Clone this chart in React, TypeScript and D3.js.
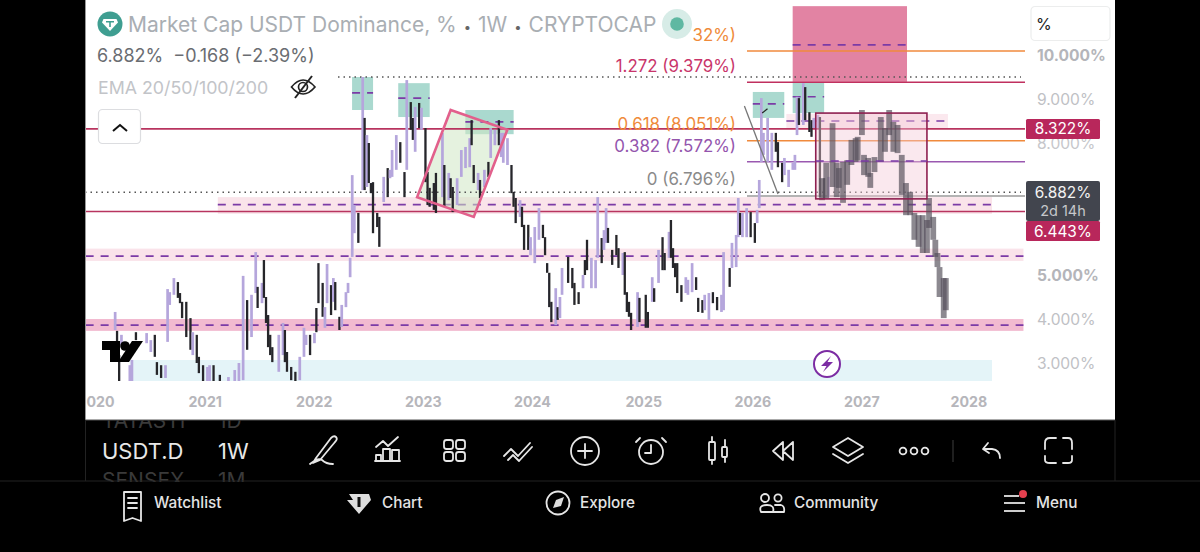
import React from "react";
import * as d3 from "d3";

const weeks = [
0,1,2,3,7,8,10,15,17,19,
20,22,24,25,26,28,30,31,32,34,
36,37,39,40,42,44,45,47,50,54,
57,59,61,63,65,67,68,70,71,72,
73,74,75,78,80,81,82,84,86,88,
90,91,93,95,96,97,99,100,101,103,
104,105,107,108,110,111,112,113,114,116,
118,119,120,121,122,123,125,126,128,130,
131,132,134,136,138,139,141,142,143,145,
146,148,149,150,152,153,156,157,159,160,
161,163,165,167,169,170,171,173,174,176,
178,179,181,183,184,185,187,189,190,191,
193,194,195,197,198,200,202,204,205,206,
207,208,210,211,212,213,216,218,219,221,
223,224,225,227,229,230,232,233,234,235,
237,239,240,242,243,244,245,246,249,250,
253,254,256,257,259,261,262,264,265,266,
267,268,270,272,273,275,277,278,280,281,
283,285,287,289,290,293,294,296,297,298,
299,301,303,305,306,307,308,309,311,313,
315,316,318,319,321,323,324,325,326,328,
329,331,332,333,335,336,338,340];
const highs = [
4.16,3.73,3.18,3.64,2.95,3.07,3.70,3.68,3.52,3.64,
3.02,2.95,2.95,4.68,4.61,4.93,4.84,4.59,4.39,4.39,
4.02,3.70,3.64,3.14,2.95,2.91,2.95,2.95,2.73,2.68,
2.84,3.0,4.98,4.43,4.55,5.52,4.73,4.82,5.34,4.50,
4.09,3.64,3.36,3.64,3.91,3.75,3.25,2.91,2.80,3.14,
3.80,3.64,3.64,3.68,4.25,5.27,4.82,4.27,5.25,4.77,
4.93,4.84,4.05,4.32,4.61,4.82,5.39,7.27,6.59,6.41,
9.5,8.57,8.18,8.0,7.09,7.11,6.41,6.32,7.23,7.43,
7.39,7.84,8.18,8.02,7.34,9.43,8.93,8.57,8.82,8.91,
8.80,8.34,7.34,6.98,7.09,7.32,8.23,7.5,7.32,7.2,
7.0,7.2,7.84,7.91,8.11,8.52,7.5,7.32,7.16,7.39,
7.57,8.34,8.3,8.52,8.23,8.23,8.11,7.5,6.89,6.75,
6.7,6.55,6.14,6.14,5.86,6.09,6.52,6.14,5.86,5.27,
5.05,4.39,4.7,4.27,4.5,5.16,5.41,5.16,4.82,4.61,
5.0,5.34,5.8,5.39,5.34,6.77,5.84,6.02,6.52,6.07,
5.57,5.91,5.61,5.5,5.52,4.61,4.39,4.14,4.61,4.48,
4.55,4.16,4.95,4.7,5.57,5.86,5.5,5.98,6.25,5.61,
5.27,5.27,4.77,4.95,4.89,5.27,4.95,4.48,4.43,4.55,
4.59,4.61,4.5,4.55,5.52,5.16,5.73,5.91,6.75,6.41,
6.41,6.52,6.43,6.18,6.48,7.16,9.02,8.23,8.57,8.23,
8.23,8.02,7.55,7.66,7.39,7.55,7.73,9.05,9.02,9.36,
9.27,8.7,8.52,8.57,8.64,8.59,7.2,7.23];
const lows = [
3.75,3.4,2.59,3.41,2.59,2.59,3.52,3.45,3.25,3.14,
2.73,2.66,2.66,3.48,4.32,4.55,4.48,4.36,4.02,3.59,
3.30,3.18,3.0,2.77,2.59,2.59,2.59,2.59,2.59,2.59,
2.59,2.59,2.61,3.30,3.59,4.59,4.25,4.36,4.48,3.91,
3.36,3.18,3.02,2.80,3.18,3.02,2.80,2.61,2.59,2.61,
3.14,3.41,3.18,3.45,3.70,4.36,4.05,3.80,4.36,4.09,
4.39,4.20,3.75,3.82,4.27,4.59,4.95,5.41,5.95,5.73,
6.93,6.93,7.0,7.09,6.86,5.95,6.09,5.64,6.66,6.77,
7.2,7.23,7.39,7.55,6.77,7.39,8.30,8.07,7.80,8.34,
8.30,7.11,6.59,6.55,6.48,6.41,6.77,6.55,6.70,6.75,
6.43,6.59,7.23,7.43,7.45,7.95,7.09,6.93,6.75,7.0,
7.23,7.66,7.95,7.95,7.68,7.55,7.5,6.86,6.55,6.18,
6.32,6.09,5.57,5.57,5.45,5.27,5.8,5.84,5.45,5.05,
4.27,3.93,3.86,3.98,4.02,4.55,4.82,4.7,4.32,4.34,
4.7,5.0,5.11,4.7,4.7,5.39,5.27,5.57,5.73,5.73,
5.23,5.45,5.16,5.0,4.55,4.16,4.05,3.75,3.82,3.93,
3.8,3.8,4.39,4.39,4.82,5.11,5.11,5.39,5.39,5.16,
4.95,4.59,4.39,4.59,4.55,4.61,4.66,4.16,4.14,4.2,
3.98,4.36,4.2,4.16,4.2,4.73,5.16,5.18,5.86,5.91,
5.86,5.86,5.86,5.73,6.18,6.52,7.57,7.73,7.57,7.39,
7.8,7.45,7.11,7.27,7.0,7.39,7.39,8.18,8.41,8.41,
8.52,8.25,8.14,8.34,8.34,6.77,6.75,6.77];
const ups = [
1,0,0,1,1,1,0,1,1,0,
0,0,1,1,1,1,0,0,0,0,
0,1,0,0,0,1,1,0,0,1,
1,1,1,0,1,1,0,1,0,0,
0,0,0,1,1,0,0,0,0,1,
1,1,0,1,0,0,0,1,1,0,
1,0,0,1,1,1,1,1,1,0,
1,0,1,0,0,0,0,0,1,0,
1,1,1,0,0,1,0,0,1,0,
1,0,0,0,0,0,1,0,1,0,
0,1,1,1,1,0,0,1,0,1,
0,1,1,0,1,1,1,0,0,0,
1,0,0,0,1,1,1,0,0,0,
0,0,1,0,1,1,0,0,0,0,
1,0,0,1,1,1,0,1,1,0,
0,0,0,1,0,0,0,0,1,0,
0,0,1,0,1,0,0,1,0,0,
0,0,0,1,1,1,0,0,0,1,
1,0,0,1,1,0,1,1,1,0,
1,1,0,0,1,1,1,1,1,1,
0,0,0,1,1,1,1,1,0,1,
0,0,0,1,1,0,0,1];

const ghostWeeks = [337,339,342,344,345,347,349,351,353,354,356,357,359,360,362,365,367,369,371,373,375,377,379,381,383,385,387,388,390,391,392,393,395,396];
const ghostHighs = [7.2,7.55,8.45,7.55,7.43,7.57,7.61,8.07,8.11,8.14,8.75,7.73,7.66,7.32,7.68,8.59,8.34,8.75,8.48,8.41,7.73,7.09,6.89,6.41,6.36,6.36,6.25,6.75,6.32,5.8,5.5,5.18,4.93,4.93];
const ghostLows = [6.7,6.75,7.0,6.77,6.98,6.64,7.05,7.5,7.57,7.6,8.18,7.27,7.23,6.98,7.34,7.57,7.8,8.18,7.8,7.77,6.82,6.36,6.36,5.8,5.64,5.5,5.5,6.07,5.8,5.41,5.18,4.5,4.02,4.2];

const yearWeeks = [-9,43,95,147,199,252,304,356,407];
const yearLabels = ["2020","2021","2022","2023","2024","2025","2026","2027","2028"];
const priceTicks = [10,9,8,5,4,3];
const priceWeights = [700,400,400,700,400,400];
const priceColors = ["#b4b5ba","#c0c1c5","#c6c7cb","#b4b5ba","#c0c1c5","#c0c1c5"];

// zones: [week from, week to, price top, price bottom]
const tealZones = [[113,123,9.5,8.75],[135,150,9.36,8.59],[167,190,8.75,8.2],[304,319,9.16,8.57],[323,338,9.39,8.68]];
const tealMid = [9.14,9.02,8.48,8.89,9.05];
const bandZones = [[49,418,6.77,6.39,"#fae4ea",6.6],[-14,433,5.6,5.32,"#fae3ea",5.43],[-14,433,4.0,3.73,"#f2bad0",3.86],[320,397,8.66,8.34,"#fbe8ee",8.5]];
const fibLines = [[10.09,"#f08a3c"],[9.379,"#c0305f"],[8.051,"#f08a3c"],[7.572,"#9a58b0"],[6.796,"#9a9a9a"]];
const fibLabels = [["32%)",10.32,"#ef8a3a"],["1.272 (9.379%)",9.61,"#c9356a"],["0.618 (8.051%)",8.3,"#ef8a3a"],["0.382 (7.572%)",7.8,"#9455ad"],["0 (6.796%)",7.05,"#8a8a8a"]];
const channelWeeks = [160,187,171,144];
const channelPrices = [8.75,8.30,6.32,6.77];

const x = d3.scaleLinear().domain([0, 408]).range([115, 971]);
const y = d3.scaleLinear().domain([3, 10]).range([363, 55]);
const fontUI = "Inter, 'Noto Sans', sans-serif";

function Dashed({ x1, x2, yy }: any) {
  return <line x1={x1} x2={x2} y1={yy} y2={yy} stroke="#7b3ba6" strokeWidth={1.6} strokeDasharray="8 7" />;
}

const ic = { fill: "none", stroke: "#e6e6e6", strokeWidth: 1.8, strokeLinecap: "round", strokeLinejoin: "round" } as any;

export default function App() {
  const ch = d3.line()(channelWeeks.map((w, i) => [x(w), y(channelPrices[i])] as [number, number])) + "Z";
  return (
    <svg width={1200} height={552} style={{ position: "absolute", left: 0, top: 0, display: "block", background: "#000" }} fontFamily={fontUI}>
      <defs>
        <clipPath id="plot"><rect x={86} y={0} width={1029} height={381} /></clipPath>
        <clipPath id="axisclip"><rect x={86} y={381} width={1029} height={39} /></clipPath>
        <clipPath id="bar"><rect x={85} y={420} width={600} height={62} /></clipPath>
        <filter id="soft" x="-5%" y="-5%" width="110%" height="110%"><feGaussianBlur stdDeviation="0.4" /></filter>
      </defs>
      <rect x={85} y={0} width={1030} height={420} fill="#fff" />
      <line x1={85.5} x2={85.5} y1={0} y2={420} stroke="#999" />
      <line x1={85} x2={1115} y1={420} y2={420} stroke="#555" />

      <g clipPath="url(#plot)">
        <rect x={x(7)} y={y(3)-3} width={992-x(7)} height={24} fill="#e4f4f8" />
        {bandZones.map((b: any, i) => (
          <rect key={i} x={x(b[0])} y={y(b[2])} width={x(b[1]) - x(b[0])} height={y(b[3]) - y(b[2])} fill={b[4]} />
        ))}
        {bandZones.map((b: any, i) => <Dashed key={i} x1={x(b[0])} x2={x(b[1])} yy={y(b[5])} />)}
        {tealZones.map((z, i) => (
          <rect key={i} x={x(z[0])} y={y(z[2])} width={x(z[1]) - x(z[0])} height={y(z[3]) - y(z[2])} fill="#aad9cf" />
        ))}
        <rect x={x(323)} y={y(11.11)} width={x(377.5) - x(323)} height={y(9.39) - y(11.11)} fill="#e283a3" />
        <Dashed x1={x(323)} x2={x(377.5)} yy={y(10.23)} />
        <path d={ch} fill="#cfe8c4" fillOpacity={0.55} />
        <line x1={338} x2={1021} y1={y(9.5)} y2={y(9.5)} stroke="#555" strokeWidth={1.4} strokeDasharray="1.5 4" />
        <line x1={85} x2={1021} y1={y(6.882)} y2={y(6.882)} stroke="#555" strokeWidth={1.4} strokeDasharray="1.5 4" />
        {fibLines.map((f: any, i) => (
          <line key={i} x1={747} x2={1025} y1={y(f[0])} y2={y(f[0])} stroke={f[1]} strokeWidth={1.5} />
        ))}
        <line x1={85} x2={1025} y1={y(8.322)} y2={y(8.322)} stroke="#b8345f" strokeWidth={1.6} />
        <line x1={85} x2={1025} y1={y(6.443)} y2={y(6.443)} stroke="#b8345f" strokeWidth={1.6} />
        {tealZones.map((z, i) => <Dashed key={i} x1={x(z[0])} x2={x(z[1])} yy={y(tealMid[i])} />)}

        <g filter="url(#soft)">
          {weeks.map((w, i) => (
            <rect key={i} x={x(w) - 1.2} y={y(highs[i])} width={ups[i] ? 2.7 : 2.3}
              height={Math.max(1, y(lows[i]) - y(highs[i]))} fill={ups[i] ? "#b5a6dc" : "#26262b"} />
          ))}
        </g>
        <path d={ch} fill="none" stroke="#e2608c" strokeWidth={2.6} />
        <line x1={x(300)} y1={y(8.84)} x2={x(316)} y2={y(6.84)} stroke="#777" strokeWidth={1.3} />
        <line x1={x(308)+1} y1={y(8.68)} x2={x(311)} y2={y(8.78)} stroke="#222" strokeWidth={1.2} />

        <rect x={x(334)} y={y(8.68)} width={x(387) - x(334)} height={y(6.73) - y(8.68)} fill="#f3c9d6" fillOpacity={0.42} stroke="none" />
        <g filter="url(#soft)">
          {ghostWeeks.map((w, i) => (
            <rect key={i} x={x(w) - 2.9} y={y(ghostHighs[i])} width={5.8} height={y(ghostLows[i]) - y(ghostHighs[i])} fill="#55505c" fillOpacity={0.68} />
          ))}
        </g>
        <rect x={x(334)} y={y(8.68)} width={x(387) - x(334)} height={y(6.73) - y(8.68)} fill="none" stroke="#8e1f50" strokeWidth={1.6} />
        <Dashed x1={x(334)} x2={x(387)} yy={y(7.59)} />

        <g fill="#000">
          <path d="M102 341H120V362H110V350H102Z" />
          <circle cx={125} cy={346} r={4.8} />
          <path d="M132 341H143L129 362H118Z" />
        </g>
        <circle cx={827} cy={364} r={13} fill="#fff" stroke="#7c2ca3" strokeWidth={2} />
        <path d="M831 356L821 366H826.5L823 372L833 362H827.5Z" fill="#7c2ca3" />
      </g>

      {/* header */}
      <circle cx={110} cy={24} r={12.5} fill="#3f9e91" />
      <path d="M103.5 19H116.5L118 22.5L110 31L102 22.5Z" fill="#fff" />
      <rect x={106} y={21} width={8} height={1.5} fill="#3f9e91" />
      <rect x={109.2} y={21} width={1.6} height={6} fill="#3f9e91" />
      <text x={128} y={32} fontSize={21} fill="#a9aeb3">Market Cap USDT Dominance, %<tspan dx={7} fill="#666" fontSize={13}>•</tspan><tspan dx={7}>1W</tspan><tspan dx={7} fill="#666" fontSize={13}>•</tspan><tspan dx={7}>CRYPTOCAP</tspan></text>
      <circle cx={677} cy={24} r={15} fill="#d7ece7" />
      <circle cx={677} cy={24} r={6.8} fill="#5fb8a2" />
      <text x={97} y={62} fontSize={18} fill="#6a6d72">6.882%<tspan dx={10}>−0.168 (−2.39%)</tspan></text>
      <text x={98} y={94} fontSize={17.8} fill="#c2c4c8">EMA 20/50/100/200</text>
      <g fill="none" stroke="#222" strokeWidth={1.7}>
        <path d="M291.5 87Q303 73 315 87Q303 101 291.5 87Z" />
        <circle cx={303} cy={87} r={4.5} />
        <path d="M295 98L312 76" strokeWidth={2} />
      </g>
      <rect x={98.5} y={109.5} width={42} height={34} rx={4} fill="#fff" stroke="#dcdde0" strokeWidth={1.2} />
      <path d="M113 131L120 125L127 131" fill="none" stroke="#111" strokeWidth={2} />
      <rect x={1031} y={6.5} width={79} height={34} rx={4} fill="#fff" stroke="#eceded" strokeWidth={1.2} />
      <text x={1036} y={30} fontSize={16} fill="#222">%</text>

      {fibLabels.map((f: any, i) => (
        <text key={i} x={736} y={y(f[1])} textAnchor="end" fontSize={16.9} fill={f[2]}>{f[0]}</text>
      ))}
      {priceTicks.map((p, i) => (
        <text key={p} x={1037} y={y(p) + 6} fontSize={15.6} fontWeight={priceWeights[i]} fill={priceColors[i]}>{`${p}.000%`}</text>
      ))}
      <g clipPath="url(#axisclip)">
        {yearWeeks.map((w, i) => (
          <text key={i} x={x(w)} y={407} textAnchor="middle" fontSize={14.2} fontWeight={700} fill="#b6b6bb">{yearLabels[i]}</text>
        ))}
      </g>

      <rect x={1026} y={119} width={74} height={20} rx={1.5} fill="#b8275b" />
      <text x={1063} y={134} textAnchor="middle" fontSize={15.4} fill="#fff">8.322%</text>
      <rect x={1026} y={181} width={74} height={40} rx={2} fill="#42454e" />
      <text x={1063} y={198} textAnchor="middle" fontSize={15.4} fill="#f2f2f2">6.882%</text>
      <text x={1063} y={216} textAnchor="middle" fontSize={14.5} fill="#c6c7cb">2d 14h</text>
      <rect x={1026} y={221} width={74} height={20} rx={1.5} fill="#b8275b" />
      <text x={1063} y={237} textAnchor="middle" fontSize={15.4} fill="#fff">6.443%</text>

      {/* toolbar */}
      <g clipPath="url(#bar)" fontSize={21} fill="#3a3a3a">
        <text x={102} y={428}>TATASTI</text><text x={218} y={428}>1D</text>
        <text x={102} y={488}>SENSEX</text><text x={218} y={488}>1M</text>
      </g>
      <text x={102} y={459} fontSize={22} fill="#e8e8e8">USDT.D</text>
      <text x={218} y={459} fontSize={22} fill="#e8e8e8">1W</text>
      <line x1={0} x2={1200} y1={481} y2={481} stroke="#222" />
      <line x1={85.5} x2={85.5} y1={420} y2={481} stroke="#222" />
      <line x1={1115} x2={1115} y1={420} y2={481} stroke="#222" />

      <g {...ic}>
        <path d="M316 458L331 438Q334 435 336 437Q338 439 335 442L320 460L313 463ZM310 464Q318 457 322 460Q326 464 333 464" />
        <path d="M376 461V455H381V461ZM383 461V449H390V461ZM392 461V450H399V461M375 461H400M376 447L383 441L388 446L398 437" />
        <rect x={444} y={440} width={9} height={9} rx={2.5} /><rect x={456} y={440} width={9} height={9} rx={2.5} />
        <rect x={444} y={452} width={9} height={9} rx={2.5} /><rect x={456} y={452} width={9} height={9} rx={2.5} />
        <path d="M504 456L511 449L518 456L530 443M508 460L513 455L519 461L532 447" />
        <circle cx={585} cy={451} r={14} /><path d="M585 444V458M578 451H592" />
        <circle cx={651} cy={452} r={12} /><path d="M651 445V453H645M640 438L636 442M662 438L666 442" />
        <rect x={709} y={442} width={6} height={18} rx={1} /><path d="M712 437V442M712 460V464M725 440V447M725 457V462" /><rect x={722} y={447} width={5} height={10} rx={1} />
        <path d="M783 442L773 451L783 460ZM793 442L783 451L793 460Z" />
        <path d="M848 438L863 447L848 456L833 447ZM833 454L848 463L863 454" />
        <circle cx={903} cy={451} r={3.4} /><circle cx={914} cy={451} r={3.4} /><circle cx={925} cy={451} r={3.4} />
        <path d="M988 443L983 449L989 453M984 449H992Q1000 450 1000 458" />
        <path d="M1045 449V443Q1045 438 1050 438H1056M1063 438H1068Q1072 438 1072 443V449M1072 456V460Q1072 463 1068 463H1063M1056 463H1050Q1045 463 1045 460V456" />
      </g>
      <line x1={953} x2={953} y1={440} y2={462} stroke="#2a2a2a" strokeWidth={1.5} />

      {/* nav */}
      <g fontSize={15.3} fill="#e4e4e4" fontWeight={500}>
        <text x={154} y={508}>Watchlist</text>
        <text x={382} y={508}>Chart</text>
        <text x={580} y={508}>Explore</text>
        <text x={794} y={508}>Community</text>
        <text x={1036} y={508}>Menu</text>
      </g>
      <g {...ic}>
        <path d="M124 500V492H141V521L132.5 518L124 521Z" />
        <path d="M128 498H137M128 503H137M128 508H137" />
        <circle cx={558} cy={503} r={11.5} />
        <circle cx={765} cy={498} r={4} /><circle cx={778} cy={498} r={3.6} />
        <path d="M761 512Q758 505 767 505Q775 505 773 512Z" /><path d="M775 505H781Q785 506 784 512H772" />
      </g>
      <path d="M353 500L349 494H369L371 500L359 514L347 500Z" fill="#dedede" />
      <rect x={357.5} y={497} width={3} height={10} fill="#111" />
      <path d="M553 508L556 500L564 497L561 506Z" fill="#dedede" />
      <g stroke="#e4e4e4" strokeWidth={1.8}>
        <line x1={1004} x2={1019} y1={496} y2={496} />
        <line x1={1004} x2={1025} y1={503} y2={503} />
        <line x1={1004} x2={1025} y1={511} y2={511} />
      </g>
      <circle cx={1023} cy={494} r={4} fill="#e5404f" />
    </svg>
  );
}
